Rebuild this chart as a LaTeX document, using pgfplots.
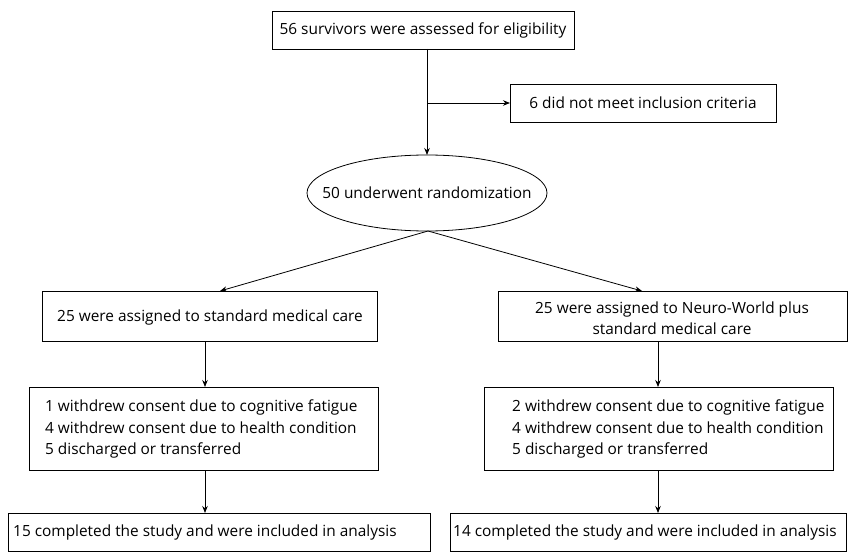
\documentclass[border=0pt]{standalone}
\usepackage{pgfplots}
\pgfplotsset{compat=1.18}
\usetikzlibrary{arrows.meta}
\usepackage{fontspec}
\setmainfont{Open Sans}
\begin{document}
\begin{tikzpicture}
\begin{axis}[
  scale only axis, width=856pt, height=556pt,
  xmin=0, xmax=856, ymin=0, ymax=556, y dir=reverse,
  hide axis, clip=false,
]
\tikzset{ln/.style={black, solid, line width=0.8pt, mark=none},
  arr/.style={ln, -{Stealth[length=7pt,width=5.5pt]}},
  txt/.style={font=\fontsize{15.4}{21.5}\selectfont, inner sep=0pt}}
\path (axis cs:0,0) rectangle (axis cs:856,556);
% boxes
\addplot[ln] coordinates {(272,11) (574,11) (574,49) (272,49) (272,11)};
\addplot[ln] coordinates {(510,84) (776,84) (776,122) (510,122) (510,84)};
\addplot[ln] coordinates {(42,291) (377,291) (377,341) (42,341) (42,291)};
\addplot[ln] coordinates {(498,291) (847,291) (847,341) (498,341) (498,291)};
\addplot[ln] coordinates {(29,387) (378,387) (378,470) (29,470) (29,387)};
\addplot[ln] coordinates {(484,387) (833,387) (833,470) (484,470) (484,387)};
\addplot[ln] coordinates {(8,551) (8,513) (430,513) (430,551) (8,551)};
\addplot[ln] coordinates {(450,551) (450,513) (846,513) (846,551) (450,551)};
\draw[black, line width=0.8pt] (axis cs:427,193) ellipse [x radius=120, y radius=38];
% connectors
\addplot[ln] coordinates {(427,49) (427,103)};
\addplot[arr] coordinates {(427,103) (427,155)};
\addplot[arr] coordinates {(427,103) (510,103)};
\addplot[arr] coordinates {(428,231) (220,291)};
\addplot[arr] coordinates {(428,231) (642,291)};
\addplot[arr] coordinates {(205,341) (205,387)};
\addplot[arr] coordinates {(658,341) (658,387)};
\addplot[arr] coordinates {(205,470) (205,513)};
\addplot[arr] coordinates {(658,470) (658,513)};
% texts
\node[txt] at (axis cs:423,30) {56 survivors were assessed for eligibility};
\node[txt] at (axis cs:643,103) {6 did not meet inclusion criteria};
\node[txt] at (axis cs:427,193) {50 underwent randomization};
\node[txt] at (axis cs:210,317) {25 were assigned to standard medical care};
\node[txt, align=center] at (axis cs:672,318) {25 were assigned to Neuro-World plus\\standard medical care};
\node[txt, align=left, anchor=west] at (axis cs:45,429) {1 withdrew consent due to cognitive fatigue\\4 withdrew consent due to health condition\\5 discharged or transferred};
\node[txt, align=left, anchor=west] at (axis cs:512,429) {2 withdrew consent due to cognitive fatigue\\4 withdrew consent due to health condition\\5 discharged or transferred};
\node[txt, anchor=west] at (axis cs:13,532) {15 completed the study and were included in analysis};
\node[txt, anchor=west] at (axis cs:453,532) {14 completed the study and were included in analysis};
\end{axis}
\end{tikzpicture}
\end{document}
